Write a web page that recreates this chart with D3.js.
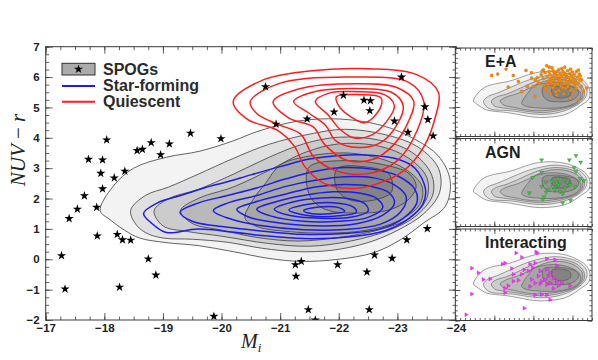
<!DOCTYPE html>
<html>
<head>
<meta charset="utf-8">
<script src="https://cdnjs.cloudflare.com/ajax/libs/d3/7.8.5/d3.min.js"></script>
<style>
  body { margin: 0; background: #fff; }
  svg text { font-family: "Liberation Sans", Arial, sans-serif; }
  svg text.math { font-family: "Liberation Serif", "DejaVu Serif", serif; }
</style>
</head>
<body>
<svg id="chart" width="598" height="360"></svg>
<script>
// ---- axis ticks ----
const xTicks = [-17, -18, -19, -20, -21, -22, -23, -24];
const yTicks = [-2, -1, 0, 1, 2, 3, 4, 5, 6, 7];
const insetXTicks = [-17, -19, -21, -23];
const insetYTicks = [-2, 1, 4, 7];

// ---- all-galaxy density contours (Mi, NUV-r), outer -> inner ----
const g1 = [[-17.93,1.6],[-18.15,2.4],[-18.5,3.0],[-19.06,3.36],[-19.63,3.56],[-20.2,3.9],[-20.6,4.2],[-21.3,4.55],[-22.0,4.62],[-22.75,4.4],[-23.3,3.95],[-23.7,3.4],[-23.9,2.6],[-23.82,1.75],[-23.45,1.2],[-23.05,0.64],[-22.6,0.22],[-22.0,0.0],[-21.35,-0.07],[-20.8,0.03],[-20.2,0.25],[-19.6,0.45],[-19.05,0.55],[-18.6,0.7],[-18.35,0.95],[-18.1,1.3]];
const g2 = [[-18.45,1.62],[-18.7,2.1],[-19.1,2.38],[-19.6,2.8],[-20.2,3.32],[-20.8,3.78],[-21.5,4.12],[-22.1,4.28],[-22.8,4.1],[-23.35,3.7],[-23.7,3.0],[-23.72,2.2],[-23.45,1.5],[-23.0,0.95],[-22.5,0.55],[-21.9,0.3],[-21.3,0.25],[-20.7,0.36],[-20.1,0.56],[-19.5,0.66],[-19.0,0.7],[-18.7,0.88],[-18.52,1.2]];
const g3 = [[-18.85,1.6],[-19.1,2.0],[-19.6,2.3],[-20.2,2.8],[-20.8,3.35],[-21.4,3.8],[-22.0,4.02],[-22.7,3.92],[-23.25,3.52],[-23.58,2.8],[-23.6,2.1],[-23.3,1.4],[-22.85,0.95],[-22.2,0.6],[-21.5,0.43],[-20.8,0.52],[-20.0,0.76],[-19.4,0.92],[-19.0,1.1]];
const g4 = [[-19.3,1.6],[-19.6,2.0],[-20.2,2.38],[-20.8,2.92],[-21.4,3.5],[-22.0,3.8],[-22.7,3.72],[-23.2,3.32],[-23.5,2.7],[-23.5,2.0],[-23.2,1.35],[-22.65,0.95],[-22.0,0.72],[-21.3,0.6],[-20.6,0.72],[-20.0,0.96],[-19.5,1.18]];
const g5 = [[-20.4,1.35],[-20.55,2.0],[-20.75,2.5],[-21.0,3.1],[-21.5,3.4],[-22.15,3.5],[-22.7,3.32],[-23.15,2.95],[-23.42,2.4],[-23.38,1.8],[-23.0,1.25],[-22.45,0.95],[-21.8,0.86],[-21.1,0.92],[-20.6,1.08]];
const g6 = [[-21.45,2.5],[-21.5,3.05],[-22.1,3.25],[-22.75,3.12],[-23.2,2.82],[-23.32,2.4],[-23.18,1.95],[-22.85,1.62],[-22.3,1.52],[-21.8,1.62],[-21.55,1.95]];
const g7 = [[-21.97,2.3],[-21.97,2.98],[-22.5,3.03],[-22.86,2.8],[-22.9,2.22],[-22.6,1.95],[-22.2,1.95]];
const grayContours = [g1, g2, g3, g4, g5, g6, g7];
const grayFills = ["#f3f3f3", "#e0e0e0", "#cccccc", "#b9b9b9", "#a6a6a6", "#949494", "#838383"];

// ---- star-forming contours ----
const b1 = [[-18.67,1.51],[-18.9,1.85],[-19.3,2.1],[-19.7,2.35],[-20.1,2.55],[-20.5,2.78],[-21.0,3.05],[-21.5,3.3],[-22.0,3.42],[-22.6,3.42],[-23.0,3.3],[-23.3,3.0],[-23.48,2.3],[-23.43,1.8],[-23.2,1.35],[-22.8,0.95],[-22.2,0.74],[-21.4,0.68],[-20.6,0.8],[-19.6,1.0],[-19.06,0.88],[-18.8,1.2]];
const b2 = [[-19.29,1.55],[-19.6,1.85],[-20.1,2.1],[-20.6,2.35],[-21.1,2.65],[-21.6,2.9],[-22.1,3.02],[-22.6,2.96],[-23.0,2.75],[-23.3,2.3],[-23.33,1.85],[-23.1,1.35],[-22.7,1.0],[-22.1,0.85],[-21.4,0.82],[-20.6,0.95],[-19.9,1.1],[-19.5,1.25]];
const b3 = [[-19.86,1.6],[-20.1,1.85],[-20.6,2.1],[-21.1,2.4],[-21.6,2.6],[-22.1,2.72],[-22.6,2.68],[-22.95,2.45],[-23.15,2.05],[-23.05,1.55],[-22.7,1.15],[-22.1,0.98],[-21.4,0.97],[-20.7,1.1],[-20.2,1.3]];
const b4 = [[-20.26,1.65],[-20.6,1.9],[-21.1,2.15],[-21.6,2.38],[-22.1,2.46],[-22.55,2.4],[-22.85,2.2],[-22.95,1.85],[-22.75,1.45],[-22.3,1.17],[-21.6,1.1],[-20.9,1.22],[-20.45,1.4]];
const b5 = [[-20.6,1.65],[-20.9,1.88],[-21.4,2.1],[-21.9,2.22],[-22.35,2.18],[-22.65,2.0],[-22.75,1.7],[-22.5,1.38],[-22.0,1.25],[-21.4,1.25],[-20.85,1.42]];
const b6 = [[-20.9,1.65],[-21.2,1.88],[-21.7,2.02],[-22.15,2.0],[-22.45,1.82],[-22.5,1.58],[-22.2,1.38],[-21.7,1.35],[-21.15,1.45]];
const b7 = [[-21.15,1.62],[-21.45,1.8],[-21.9,1.86],[-22.25,1.72],[-22.3,1.55],[-22.0,1.43],[-21.5,1.43]];
const b8 = [[-21.4,1.6],[-21.65,1.72],[-22.0,1.7],[-22.1,1.58],[-21.85,1.5],[-21.55,1.5]];
const blueContours = [b1, b2, b3, b4, b5, b6, b7, b8];

// ---- quiescent contours ----
const r1 = [[-20.2,5.2],[-20.7,5.9],[-21.5,6.2],[-22.36,6.28],[-23.33,6.08],[-23.7,5.5],[-23.65,4.7],[-23.45,3.7],[-23.1,2.9],[-22.6,2.45],[-22.2,2.33],[-21.75,2.5],[-21.42,3.05],[-21.25,3.7],[-20.95,4.25],[-20.45,4.6]];
const r2 = [[-20.49,5.19],[-21.0,5.8],[-22.3,6.0],[-23.2,5.82],[-23.45,5.2],[-23.35,4.3],[-23.0,3.25],[-22.5,2.82],[-21.95,2.92],[-21.57,3.38],[-21.35,4.12],[-20.95,4.45],[-20.6,4.8]];
const r3 = [[-20.88,5.19],[-21.3,5.6],[-22.3,5.78],[-23.0,5.65],[-23.28,5.2],[-23.18,4.5],[-22.95,3.8],[-22.6,3.3],[-22.15,3.25],[-21.75,3.8],[-21.57,4.35],[-21.15,4.65]];
const r4 = [[-21.23,5.19],[-21.55,5.5],[-22.3,5.62],[-22.9,5.5],[-23.1,5.05],[-23.0,4.45],[-22.72,3.85],[-22.33,3.68],[-21.95,3.9],[-21.78,4.4],[-21.5,4.8]];
const r5 = [[-21.6,5.2],[-21.85,5.48],[-22.3,5.52],[-22.78,5.42],[-22.95,5.05],[-22.82,4.55],[-22.55,4.08],[-22.25,4.0],[-22.02,4.28],[-21.82,4.75]];
const r6 = [[-21.96,5.35],[-22.35,5.42],[-22.72,5.32],[-22.7,4.95],[-22.45,4.5],[-22.2,4.7],[-22.0,5.05]];
const redContours = [r1, r2, r3, r4, r5, r6];

// ---- SPOGs ----
const spogs = [[-18.04,3.93],[-17.73,3.29],[-17.97,3.27],[-17.94,2.83],[-17.97,2.32],[-17.66,2.09],[-17.54,1.65],[-17.87,1.71],[-18.17,2.68],[-18.35,2.9],[-18.56,3.58],[-18.65,3.62],[-18.8,3.84],[-18.96,3.44],[-19.11,3.8],[-19.47,4.15],[-19.99,3.97],
  [-17.4,1.34],[-17.88,0.77],[-18.22,0.82],[-18.31,0.64],[-18.45,0.63],[-17.27,0.12],[-18.75,0.01],[-18.88,-0.52],[-17.33,-0.98],[-18.26,-0.92],[-19.87,-1.88],
  [-21.26,-0.18],[-21.36,-0.07],[-21.27,-0.56],[-21.98,-0.18],[-22.48,-0.42],[-22.61,0.14],[-22.91,0.03],[-23.16,0.64],[-23.51,1.01],[-21.48,-1.66],[-22.52,-1.66],[-21.6,-2.0],
  [-20.75,5.68],[-20.93,4.45],[-21.46,4.62],[-21.92,4.85],[-22.08,5.4],[-22.43,5.24],[-22.54,5.22],[-22.53,4.89],[-22.95,4.55],[-23.07,6.0],[-23.47,5.02],[-23.52,4.6],[-23.18,4.18],[-23.61,4.06]];

// ---- inset samples ----
const eaPoints = [[-18.86,4.21],[-19.17,4.35],[-19.6,4.86],[-19.97,4.21],[-20.23,3.6],[-19.71,3.03],[-20.4,2.58],[-20.62,4.72],[-20.69,3.09],[-21.08,2.07],[-20.91,3.94],[-21.25,3.44],[-21.51,4.79],[-21.68,5.2],[-21.81,5.06],[-23.3,1.74],[-22.87,1.91],[-23.73,2.93],[-23.55,2.58],[-23.47,3.77],[-21.85,2.42],[-22.19,2.24],[-21.0,3.09],[-21.59,2.75],
  [-21.4,4.3],[-21.5,3.9],[-21.6,4.5],[-21.7,4.1],[-21.75,3.6],[-21.8,4.6],[-21.85,4.3],[-21.9,3.9],[-21.95,3.4],[-22.0,4.7],[-22.0,4.1],[-22.05,3.7],[-22.1,4.4],[-22.1,3.2],[-22.15,3.95],[-22.2,4.6],[-22.2,4.2],[-22.25,3.5],[-22.3,4.8],[-22.3,3.85],[-22.35,4.4],[-22.4,3.1],[-22.4,4.05],[-22.45,3.65],[-22.5,4.6],[-22.5,4.25],[-22.55,3.35],[-22.6,3.9],[-22.6,4.45],[-22.65,2.9],[-22.7,4.15],[-22.7,3.6],[-22.75,4.7],[-22.8,3.3],[-22.8,4.0],[-22.85,4.4],[-22.9,3.75],[-22.9,2.7],[-22.95,4.2],[-23.0,3.5],[-23.0,4.55],[-23.05,3.95],[-23.1,3.15],[-23.1,4.3],[-23.15,3.7],[-23.2,4.6],[-23.2,2.9],[-23.25,4.05],[-23.3,3.45],[-23.35,4.35],[-23.4,3.8],[-23.45,3.1],[-21.3,3.4],[-21.2,4.0],[-21.55,3.2],[-21.65,2.9],[-22.0,2.95],[-22.3,2.7],[-22.45,4.9],[-22.9,4.85],[-21.95,5.0],[-22.6,5.05],[-23.3,4.75],[-22.15,2.55],[-22.55,2.35],[-21.1,3.7],[-20.9,4.5],[-22.75,3.05],[-22.25,3.3],[-23.05,2.6],[-21.45,4.65],[-22.85,3.55],[-22.35,3.75],[-22.65,4.3],[-23.15,3.4],[-21.9,3.55],[-22.05,4.55],[-23.4,4.15],[-22.5,2.95],[-21.75,3.3]];
const agnPoints = [[-21.42,4.81],[-22.84,4.81],[-23.18,5.25],[-23.42,4.58],[-23.08,4.03],[-23.18,3.62],[-21.42,3.56],[-20.96,3.01],[-23.39,2.88],[-23.59,2.68],[-21.64,2.54],[-21.94,2.6],[-22.23,2.88],[-22.58,2.77],[-22.74,2.5],[-21.42,2.09],[-21.99,2.09],[-22.27,2.26],[-22.87,2.26],[-23.13,2.09],[-21.76,1.76],[-22.1,1.76],[-22.36,1.58],[-22.62,1.93],[-21.64,1.5],[-20.79,1.44],[-21.54,1.03],[-22.5,1.34],[-21.48,0.76],[-22.91,0.66],[-22.5,0.42],[-22.19,2.43]];
const intPoints = [[-17.84,3.15],[-18.18,2.7],[-18.43,2.03],[-18.78,2.09],[-17.84,0.6],[-17.55,-1.43],[-20.53,-0.79],[-19.41,3.56],[-19.54,3.66],[-20.11,4.64],[-20.4,4.23],[-21.13,4.74],[-21.2,4.64],[-21.68,4.07],[-22.1,3.97],[-22.19,3.39],[-21.08,3.66],[-20.82,3.56],[-19.89,3.11],[-20.52,2.98],[-20.96,3.21],[-21.34,2.88],[-21.68,3.05],[-21.85,2.7],[-20.4,2.54],[-19.97,2.54],[-20.23,1.96],[-19.97,1.86],[-20.91,2.03],[-21.08,1.68],[-21.25,2.37],[-21.42,1.86],[-21.59,2.03],[-21.76,2.37],[-22.02,2.19],[-21.34,1.62],[-21.68,1.52],[-21.85,1.68],[-22.19,1.86],[-22.27,1.42],[-22.02,1.17],[-22.45,1.68],[-22.87,1.42],[-19.71,1.42],[-19.54,1.17],[-19.54,0.73],[-20.82,1.35],[-21.08,0.5],[-21.42,0.57],[-21.68,0.5],[-21.85,0.05],[-20.74,2.88]];

const insets = [
    { label: "E+A", points: eaPoints, top: 48, bottom: 136.5, fill: "#f28a10", stroke: "#c06a00", shape: "circle" },
    { label: "AGN", points: agnPoints, top: 138.5, bottom: 226.5, fill: "#3ccc3c", stroke: "#1a661a", shape: "down" },
    { label: "Interacting", points: intPoints, top: 229, bottom: 320.5, fill: "#ff33ff", stroke: "#c000c0", shape: "right" }
];

const svg = d3.select("#chart");
const axisColor = "#3a3a3a";

const main = { left: 45.7, right: 456, top: 46.7, bottom: 320 };
const x = d3.scaleLinear().domain([-17, -24]).range([main.left, main.right]);
const y = d3.scaleLinear().domain([-2, 7]).range([main.bottom, main.top]);

function contourLine(xs, ys) {
    return d3.line()
        .x(d => xs(d[0]))
        .y(d => ys(d[1]))
        .curve(d3.curveCatmullRomClosed.alpha(0.5));
}

// draw inward ticks on all four sides
function frameTicks(g, xs, ys, xMajor, xMinor, yMajor, yMinor, bigLen, smallLen) {
    const x0 = xs.range()[0], x1 = xs.range()[1], y0 = ys.range()[1], y1 = ys.range()[0];
    const sets = [
        [d3.axisBottom(xs), `translate(0,${y1})`, xMajor, xMinor],
        [d3.axisTop(xs), `translate(0,${y0})`, xMajor, xMinor],
        [d3.axisLeft(ys), `translate(${x0},0)`, yMajor, yMinor],
        [d3.axisRight(ys), `translate(${x1},0)`, yMajor, yMinor]
    ];
    sets.forEach(([ax, tr, major, minor]) => {
        [[minor, smallLen], [major, bigLen]].forEach(([vals, len]) => {
            const a = g.append("g").attr("transform", tr)
                .call(ax.tickValues(vals).tickSize(-len).tickFormat(""));
            a.select(".domain").remove();
            a.selectAll("line").attr("stroke", axisColor).attr("stroke-width", 0.8);
        });
    });
    g.append("rect")
        .attr("x", x0).attr("y", y0).attr("width", x1 - x0).attr("height", y1 - y0)
        .attr("fill", "none").attr("stroke", axisColor).attr("stroke-width", 1);
}

// ---------- main panel ----------
svg.append("clipPath").attr("id", "clipMain").append("rect")
    .attr("x", main.left).attr("y", main.top)
    .attr("width", main.right - main.left).attr("height", main.bottom - main.top);

const plot = svg.append("g").attr("clip-path", "url(#clipMain)");
const mainLine = contourLine(x, y);

plot.selectAll("path.gray").data(grayContours).join("path")
    .attr("class", "gray")
    .attr("d", mainLine)
    .attr("fill", (d, i) => grayFills[i])
    .attr("stroke", "#3c3c3c")
    .attr("stroke-width", 0.8);

plot.selectAll("path.blue").data(blueContours).join("path")
    .attr("class", "blue")
    .attr("d", mainLine)
    .attr("fill", "none")
    .attr("stroke", "#1c1cf0")
    .attr("stroke-width", 1.5);

plot.selectAll("path.red").data(redContours).join("path")
    .attr("class", "red")
    .attr("d", mainLine)
    .attr("fill", "none")
    .attr("stroke", "#ff1c1c")
    .attr("stroke-width", 1.5);

const star = d3.symbol().type(d3.symbolStar).size(26);
plot.selectAll("path.spog").data(spogs).join("path")
    .attr("class", "spog")
    .attr("transform", d => `translate(${x(d[0])},${y(d[1])})`)
    .attr("d", star)
    .attr("fill", "#000");

frameTicks(svg.append("g"), x, y, xTicks, d3.range(-17, -24.01, -0.25), yTicks, d3.range(-2, 7.01, 0.25), 7, 3.5);

// tick labels
const xLab = svg.append("g").attr("transform", `translate(0,${main.bottom})`)
    .call(d3.axisBottom(x).tickValues(xTicks).tickSize(0).tickPadding(4)
        .tickFormat(d => "\u2212" + Math.abs(d)));
xLab.select(".domain").remove();
const yLab = svg.append("g").attr("transform", `translate(${main.left},0)`)
    .call(d3.axisLeft(y).tickValues(yTicks).tickSize(0).tickPadding(6)
        .tickFormat(d => d < 0 ? "\u2212" + Math.abs(d) : d));
yLab.select(".domain").remove();
svg.selectAll(".tick text")
    .style("font-family", "'Liberation Sans', Arial, sans-serif")
    .style("font-size", "11.5px").style("font-weight", "bold").attr("fill", "#222");

// axis titles
svg.append("text").attr("class", "math")
    .attr("x", 241).attr("y", 348)
    .style("font-style", "italic").style("font-size", "20px").attr("fill", "#222")
    .text("M")
    .append("tspan").style("font-size", "13px").attr("dy", 4).text("i");

const yTitle = svg.append("text").attr("class", "math")
    .attr("transform", "translate(25,150) rotate(-90)")
    .attr("text-anchor", "middle")
    .style("font-size", "21px").attr("fill", "#222");
yTitle.append("tspan").style("font-style", "italic").text("NUV");
yTitle.append("tspan").text(" \u2212 ");
yTitle.append("tspan").style("font-style", "italic").text("r");

// legend
const leg = svg.append("g");
leg.append("rect").attr("x", 62).attr("y", 63.3).attr("width", 33).attr("height", 11.7)
    .attr("fill", "#ababab").attr("stroke", "#333").attr("stroke-width", 1);
leg.append("path").attr("transform", "translate(78.5,69.2)")
    .attr("d", star).attr("fill", "#000");
leg.append("line").attr("x1", 62).attr("x2", 95).attr("y1", 86).attr("y2", 86)
    .attr("stroke", "#1c1cf0").attr("stroke-width", 2);
leg.append("line").attr("x1", 62).attr("x2", 95).attr("y1", 101.7).attr("y2", 101.7)
    .attr("stroke", "#ff1c1c").attr("stroke-width", 2);
[["SPOGs", 74.5], ["Star-forming", 90.8], ["Quiescent", 106.8]].forEach(([t, yy]) => {
    leg.append("text").attr("x", 103).attr("y", yy)
        .style("font-size", "16px").style("font-weight", "bold").attr("fill", "#2b2b2b").text(t);
});

// ---------- insets ----------
const xi = d3.scaleLinear().domain([-17, -24]).range([455.3, 592]);

insets.forEach((p, k) => {
    const yi = d3.scaleLinear().domain([-2, 7]).range([p.bottom, p.top]);
    const id = "clipInset" + k;
    svg.append("clipPath").attr("id", id).append("rect")
        .attr("x", xi.range()[0]).attr("y", p.top)
        .attr("width", xi.range()[1] - xi.range()[0]).attr("height", p.bottom - p.top);
    const g = svg.append("g");
    const inner = g.append("g").attr("clip-path", `url(#${id})`);
    inner.append("rect")
        .attr("x", xi.range()[0]).attr("y", p.top)
        .attr("width", xi.range()[1] - xi.range()[0]).attr("height", p.bottom - p.top)
        .attr("fill", "#fff");
    inner.selectAll("path.gray").data(grayContours).join("path")
        .attr("class", "gray")
        .attr("d", contourLine(xi, yi))
        .attr("fill", (d, i) => grayFills[i])
        .attr("stroke", "#444")
        .attr("stroke-width", 0.5);

    let sym;
    if (p.shape === "circle") sym = d3.symbol().type(d3.symbolCircle).size(8);
    else sym = d3.symbol().type(d3.symbolTriangle).size(7);
    const rot = p.shape === "down" ? 180 : p.shape === "right" ? 90 : 0;
    inner.selectAll("path.pt").data(p.points).join("path")
        .attr("class", "pt")
        .attr("transform", d => `translate(${xi(d[0])},${yi(d[1])}) rotate(${rot})`)
        .attr("d", sym)
        .attr("fill", p.fill)
        .attr("stroke", p.stroke)
        .attr("stroke-width", 0.3);

    frameTicks(g, xi, yi, insetXTicks, d3.range(-17, -24.01, -0.25), insetYTicks, d3.range(-2, 7.01, 0.5), 5, 2.5);

    g.append("text").attr("x", 485).attr("y", p.top + 19)
        .style("font-size", "16px").style("font-weight", "bold").attr("fill", "#1e1e1e").text(p.label);
});
</script>
</body>
</html>
